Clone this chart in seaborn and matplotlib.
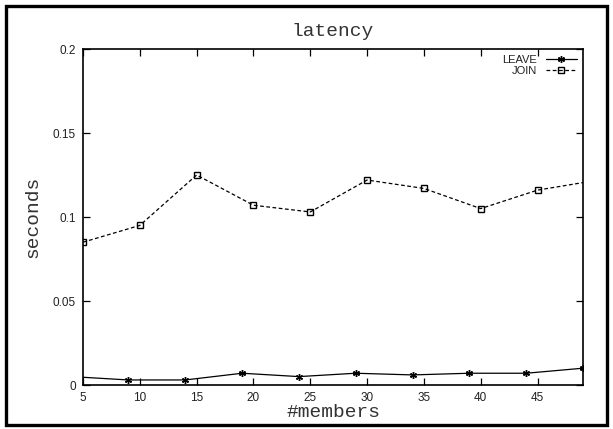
import matplotlib
matplotlib.use("Agg")
import matplotlib.pyplot as plt
from matplotlib.patches import Rectangle
import seaborn as sns
import pandas as pd

# Group membership latency measurements
leave_members = [4, 9, 14, 19, 24, 29, 34, 39, 44, 49]
leave_seconds = [0.005, 0.003, 0.003, 0.007, 0.005, 0.007, 0.006, 0.007, 0.007, 0.010]

join_members = [5, 10, 15, 20, 25, 30, 35, 40, 45, 50]
join_seconds = [0.085, 0.095, 0.125, 0.107, 0.103, 0.122, 0.117, 0.105, 0.116, 0.1216]

x_ticks = [5, 10, 15, 20, 25, 30, 35, 40, 45]
y_ticks = [0, 0.05, 0.1, 0.15, 0.2]
y_tick_labels = ["0", "0.05", "0.1", "0.15", "0.2"]

leave_df = pd.DataFrame({"members": leave_members, "seconds": leave_seconds})
join_df = pd.DataFrame({"members": join_members, "seconds": join_seconds})

sns.set_style("ticks")
plt.rcParams["font.family"] = ["Liberation Sans", "DejaVu Sans"]

W, H = 613, 429
fig = plt.figure(figsize=(W / 100, H / 100), dpi=100)
ax = fig.add_axes([83 / W, 1 - 385 / H, (583 - 83) / W, (385 - 49) / H])

sns.lineplot(data=leave_df, x="members", y="seconds", ax=ax, color="black",
             linewidth=0.9, marker=(6, 2, 0), markersize=5,
             markeredgewidth=1.0, markeredgecolor="black", label="LEAVE")
sns.lineplot(data=join_df, x="members", y="seconds", ax=ax, color="black",
             linewidth=0.9, linestyle=(0, (3, 2)), marker="s", markersize=5,
             markerfacecolor="none", markeredgecolor="black",
             markeredgewidth=1.0, label="JOIN")

ax.set_xlim(5, 49)
ax.set_ylim(0, 0.2)
ax.set_xticks(x_ticks)
ax.set_yticks(y_ticks)
ax.set_yticklabels(y_tick_labels)
ax.tick_params(direction="in", length=5, width=0.9, top=True, right=True,
               labelsize=8.5, pad=5, colors="black", labelcolor="#222222")

for side in ax.spines.values():
    side.set_visible(True)
    side.set_linewidth(1.2)
    side.set_color("black")

mono = ["Liberation Mono", "DejaVu Sans Mono"]
ax.set_xlabel("#members", family=mono, fontsize=14, labelpad=0, color="#333333")
ax.set_ylabel("seconds", family=mono, fontsize=14, labelpad=8, color="#333333")
ax.set_title("latency", family=mono, fontsize=14, pad=9, color="#333333")

leg = ax.legend(loc="upper right", frameon=False, markerfirst=False,
                fontsize=8, handlelength=2.8, handletextpad=0.8,
                labelspacing=0.1, borderaxespad=0.15)
for t in leg.get_texts():
    t.set_ha("right")
    t.set_color("#222222")

fig.patches.append(Rectangle((6 / W, 4 / H), (W - 12) / W, (H - 10) / H,
                             transform=fig.transFigure, fill=False,
                             edgecolor="black", linewidth=2.4))

fig.savefig("out.png", dpi=100)
